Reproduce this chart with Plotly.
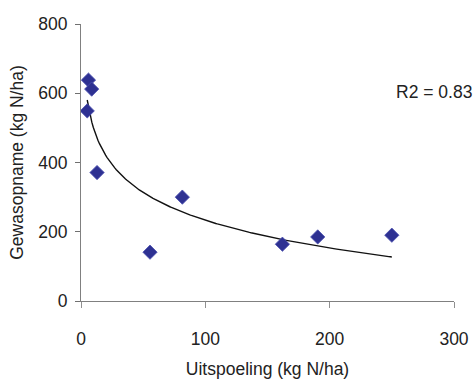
import numpy as np
import plotly.graph_objects as go

# Data
uitspoeling = [6, 8.6, 5, 12.9, 55.5, 81.5, 162, 190.4, 250]
gewasopname = [638, 612, 549, 371, 141, 300, 164, 185, 190]
x_ticks = [0, 100, 200, 300]
y_ticks = [0, 200, 400, 600, 800]
r2_label = "R2 = 0.83"

# Logarithmic trend line fitted to the points
xs = np.array(uitspoeling, dtype=float)
ys = np.array(gewasopname, dtype=float)
slope, intercept = np.polyfit(np.log(xs), ys, 1)
xfit = np.linspace(xs.min(), xs.max(), 200)
yfit = slope * np.log(xfit) + intercept

W, H = 476, 383
L, R, T, B = 81, 22, 24, 82

fig = go.Figure()
fig.add_trace(go.Scatter(x=xfit, y=yfit, mode="lines",
                         line=dict(color="#111111", width=1.4),
                         hoverinfo="skip", showlegend=False))
fig.add_trace(go.Scatter(x=uitspoeling, y=gewasopname, mode="markers",
                         marker=dict(symbol="diamond", size=11, color="#2E3192",
                                     line=dict(color="#4A4FB0", width=0.8)),
                         showlegend=False))

font = "Liberation Sans, Arial, sans-serif"
fig.update_layout(
    width=W, height=H,
    margin=dict(l=L, r=R, t=T, b=B, autoexpand=False),
    paper_bgcolor="white", plot_bgcolor="white",
    font=dict(family=font, size=17.5, color="#222222"),
    xaxis=dict(range=[0, 300], tickvals=x_ticks, showgrid=False, zeroline=False,
               automargin=False,
               showline=True, linecolor="#808080", linewidth=1.2,
               ticks="outside", ticklen=6, tickcolor="#909090", tickwidth=1.2,
               ticklabelstandoff=16,
               title=dict(text="Uitspoeling (kg N/ha)", standoff=14,
                          font=dict(size=17.5))),
    yaxis=dict(range=[0, 800], tickvals=y_ticks, showgrid=False, zeroline=False,
               automargin=False,
               showline=True, linecolor="#808080", linewidth=1.2,
               ticks="outside", ticklen=5, tickcolor="#707070", tickwidth=1.2,
               ticklabelstandoff=4,
               title=dict(text="Gewasopname (kg N/ha)", standoff=10,
                          font=dict(size=17.5))),
)
fig.add_annotation(x=(395 - L) / (W - L - R), y=(H - B - 92) / (H - B - T),
                   xref="paper", yref="paper", text=r2_label,
                   xanchor="left", yanchor="middle", borderpad=0,
                   showarrow=False, font=dict(size=17.5, color="#222222"))
fig.write_html("out.html", config={"displayModeBar": False},
               post_script="document.body.style.margin='0';document.body.style.overflow='hidden';")
